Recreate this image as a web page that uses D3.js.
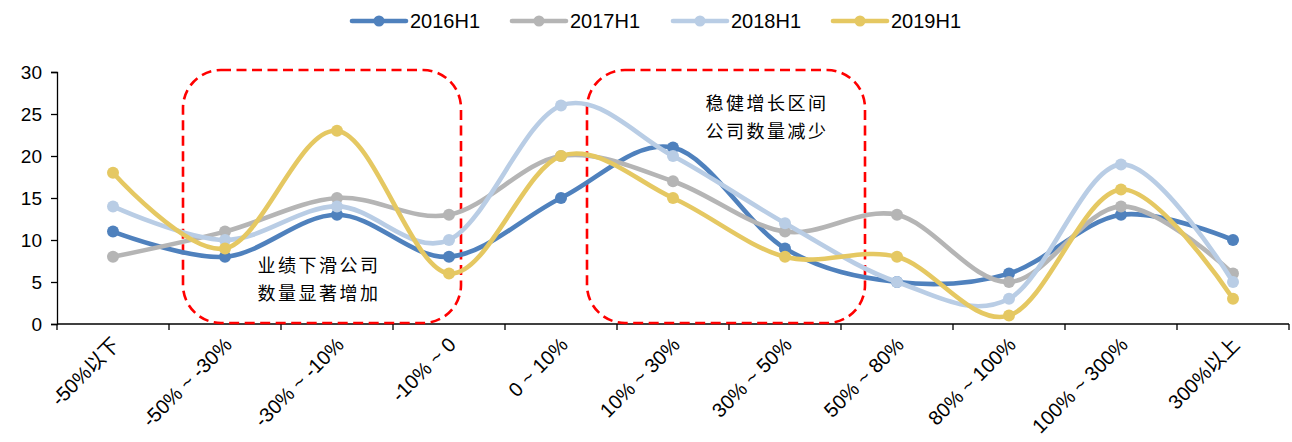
<!DOCTYPE html>
<html>
<head>
<meta charset="utf-8">
<script src="https://cdn.jsdelivr.net/npm/d3@7"></script>
<style>
  html, body { margin: 0; padding: 0; background: #fff; }
  svg { display: block; }
  text { font-family: "Liberation Sans", Arial, "Noto Sans CJK SC", sans-serif; fill: #000; }
</style>
</head>
<body>
<svg id="chart" width="1292" height="442"></svg>
<script>
// Categories: profit growth ranges
const categories = ["-50%以下", "-50% ~ -30%", "-30% ~ -10%", "-10% ~ 0", "0 ~ 10%", "10% ~ 30%",
  "30% ~ 50%", "50% ~ 80%", "80% ~ 100%", "100% ~ 300%", "300%以上"];

// Number of companies per range, by half-year
const seriesNames = ["2016H1", "2017H1", "2018H1", "2019H1"];
const s2016H1 = [11, 8, 13, 8, 15, 21, 9, 5, 6, 13, 10];
const s2017H1 = [8, 11, 15, 13, 20, 17, 11, 13, 5, 14, 6];
const s2018H1 = [14, 10, 14, 10, 26, 20, 12, 5, 3, 19, 5];
const s2019H1 = [18, 9, 23, 6, 20, 15, 8, 8, 1, 16, 3];
const seriesValues = [s2016H1, s2017H1, s2018H1, s2019H1];
const seriesColors = ["#4F81BD", "#B5B5B5", "#B9CDE5", "#E5C862"];

const yTicks = [0, 5, 10, 15, 20, 25, 30];

// Annotation text lines
const noteLeftLines = ["业绩下滑公司", "数量显著增加"];
const noteRightLines = ["稳健增长区间", "公司数量减少"];

const svg = d3.select("#chart");
const plotLeft = 57, plotRight = 1289, plotTop = 72, plotBottom = 324;

const x = d3.scaleBand().domain(categories).range([plotLeft, plotRight]).padding(0);
const y = d3.scaleLinear().domain([0, 30]).range([plotBottom, plotTop]);
const cx = d => x(d) + x.bandwidth() / 2;

// Y axis
const yAxis = svg.append("g").attr("transform", `translate(${plotLeft},0)`)
  .call(d3.axisLeft(y).tickValues(yTicks).tickSize(6).tickPadding(9).tickFormat(d3.format("d")));
yAxis.select(".domain").attr("stroke", "#000").attr("stroke-width", 1.3);
yAxis.selectAll(".tick line").attr("stroke", "#000").attr("stroke-width", 1.3);
yAxis.selectAll(".tick text").style("font-size", "19px").attr("fill", "#000")
  .style("font-family", "'Liberation Sans', Arial, sans-serif");

// X axis with ticks on category boundaries
const xAxisG = svg.append("g").attr("transform", `translate(0,${plotBottom})`);
xAxisG.append("line").attr("x1", plotLeft).attr("x2", plotRight).attr("y1", 0).attr("y2", 0)
  .attr("stroke", "#000").attr("stroke-width", 1.3);
const boundaries = categories.map(c => x(c)).concat([plotRight]);
xAxisG.selectAll("line.tk").data(boundaries).join("line").attr("class", "tk")
  .attr("x1", d => d).attr("x2", d => d).attr("y1", 0).attr("y2", 6)
  .attr("stroke", "#000").attr("stroke-width", 1.3);
xAxisG.selectAll("text.lbl").data(categories).join("text").attr("class", "lbl")
  .attr("transform", d => `translate(${cx(d) + 8},${22}) rotate(-45)`)
  .attr("text-anchor", "end")
  .style("font-size", "20px")
  .text(d => d);

// Annotation boxes (dashed, rounded)
function noteBox(x0, x1, y0, y1) {
  svg.append("rect")
    .attr("x", x0).attr("y", y0).attr("width", x1 - x0).attr("height", y1 - y0)
    .attr("rx", 38).attr("ry", 38)
    .attr("fill", "none").attr("stroke", "#FF0000").attr("stroke-width", 2.6)
    .attr("stroke-dasharray", "10,5.5");
}
noteBox(x(categories[1]) + 14, x(categories[4]) - 44, y(30) - 2, plotBottom - 1);
noteBox(x(categories[5]) - 30, x(categories[7]) + 24, y(30) - 2, plotBottom - 1);

// Series lines and markers
const line = d3.line()
  .x((d, i) => cx(categories[i]))
  .y(d => y(d))
  .curve(d3.curveCatmullRom.alpha(0));

seriesValues.forEach((vals, k) => {
  const g = svg.append("g");
  g.append("path").datum(vals).attr("d", line)
    .attr("fill", "none").attr("stroke", seriesColors[k]).attr("stroke-width", 4.6)
    .attr("stroke-linejoin", "round").attr("stroke-linecap", "round");
  g.selectAll("circle").data(vals).join("circle")
    .attr("cx", (d, i) => cx(categories[i])).attr("cy", d => y(d)).attr("r", 6)
    .attr("fill", seriesColors[k]);
});

// Annotation text
function noteText(lines, xc, yc) {
  svg.append("g").selectAll("text").data(lines).join("text")
    .attr("x", xc).attr("y", (d, i) => yc + i * 28)
    .attr("text-anchor", "middle")
    .style("font-family", "'Noto Sans CJK SC', sans-serif")
    .style("font-size", "18px").style("letter-spacing", "2.5px")
    .attr("fill", "#FF0000")
    .text(d => d);
}
noteText(noteLeftLines, 319, 272);
noteText(noteRightLines, 767, 110);

// Legend
const legend = svg.append("g");
const legX = [352, 512, 673, 833];
seriesNames.forEach((name, k) => {
  const g = legend.append("g").attr("transform", `translate(${legX[k]},21)`);
  g.append("line").attr("x1", 0).attr("x2", 54).attr("y1", 0).attr("y2", 0)
    .attr("stroke", seriesColors[k]).attr("stroke-width", 4.6).attr("stroke-linecap", "round");
  g.append("circle").attr("cx", 27).attr("cy", 0).attr("r", 5.5).attr("fill", seriesColors[k]);
  g.append("text").attr("x", 58).attr("y", 0).attr("dy", "0.35em")
    .style("font-size", "20px").text(name);
});
</script>
</body>
</html>
